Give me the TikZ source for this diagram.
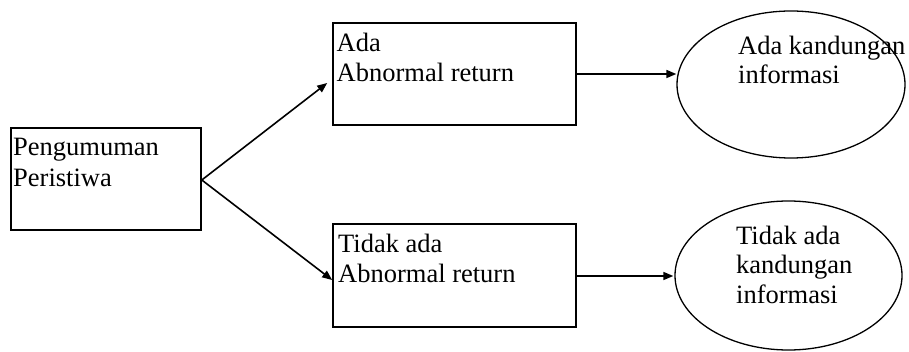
\documentclass[tikz,border=0pt]{standalone}
\usepackage{fontspec}
\setmainfont{Liberation Serif}
\usetikzlibrary{arrows.meta,shapes.geometric,calc}
\begin{document}
\begin{tikzpicture}[x=1pt,y=-1pt,
  boxnode/.style={draw=black,line width=1.6pt,rectangle,inner sep=0pt},
  ovalnode/.style={draw=black,line width=1.3pt,ellipse,inner sep=0pt},
  lbl/.style={anchor=base west,align=left,inner sep=0pt,font=\fontsize{26.5}{#1}\selectfont},
  lbl/.default=30,
  conn/.style={line width=1.6pt,-{Triangle[length=10pt,width=8pt]}}]
\useasboundingbox (0,0) rectangle (909,352);
% boxes
\node[boxnode,minimum width=190pt,minimum height=102pt] (b1) at (106,179) {};
\node[boxnode,minimum width=243pt,minimum height=102pt] (b2) at (454.5,74) {};
\node[boxnode,minimum width=243pt,minimum height=103pt] (b3) at (454.5,275.5) {};
% ellipses
\node[ovalnode,minimum width=228pt,minimum height=147pt] (e1) at (791,84.5) {};
\node[ovalnode,minimum width=227pt,minimum height=149pt] (e2) at (788.5,275.5) {};
% texts (anchored at the baseline of the last line)
\node[lbl=31] (t1) at (13,186.7) {Pengumuman\\Peristiwa};
\node[lbl] (t2) at (336.5,81.7) {Ada\\Abnormal return};
\node[lbl] (t3) at (338,282.7) {Tidak ada\\Abnormal return};
\node[lbl=28.3] (t4) at (738,83.3) {Ada kandungan\\informasi};
\node[lbl=29.5] (t5) at (736,303.3) {Tidak ada\\kandungan\\informasi};
% connectors
\coordinate (src) at ($(b1.east)+(0,1)$);
\draw[conn] (src) -- ($(b2.west)+(-5,9)$);
\draw[conn] (src) -- ($(b3.west)+(0,4.5)$);
\draw[conn] (b2.east) -- (b2.east -| e1.west);
\draw[conn] ($(b3.east)+(0,0.5)$) -- ($(b3.east -| e2.west)+(-1,0.5)$);
\end{tikzpicture}
\end{document}
